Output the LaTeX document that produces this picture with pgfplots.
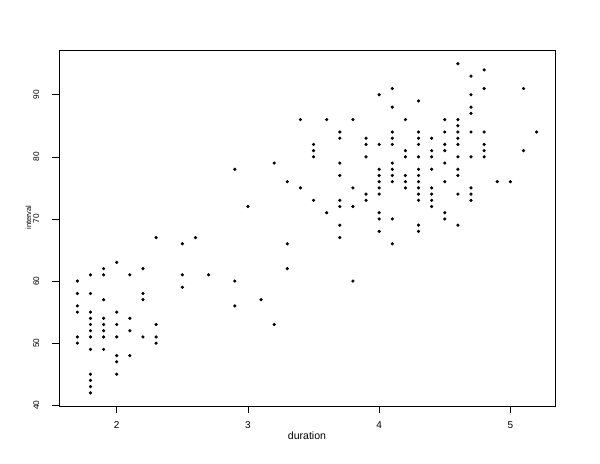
\documentclass[border=0pt]{standalone}
\usepackage{fontspec}
\setmainfont{Liberation Sans}
\usepackage{pgfplots}
\pgfplotsset{compat=1.18}
\begin{document}
\begin{tikzpicture}
\useasboundingbox (-44.25pt,-43.5pt) rectangle (405.75pt,304.5pt);
\begin{axis}[
  at={(0,0)}, anchor=south west,
  scale only axis, width=372pt, height=266.6pt,
  xmin=1.56, xmax=5.34, ymin=39.88, ymax=97.12,
  xtick={2,3,4,5}, ytick={40,50,60,70,80,90},
  tick align=outside, major tick length=5pt,
  xtick pos=bottom, ytick pos=left,
  axis line style={line width=0.6pt, black},
  tick style={line width=0.5pt, black},
  /pgf/number format/assume math mode=true,
  font=\fontsize{7.7}{9}\selectfont,
  xticklabel style={font=\fontsize{7.5}{9}\selectfont, anchor=center, yshift=-9.5pt},
  yticklabel style={font=\fontsize{6.2}{7}\selectfont, xshift=-12pt, rotate=90, anchor=center},
  xlabel={duration}, ylabel={interval},
  every axis x label/.style={at={(axis description cs:0.5,0)}, yshift=-22.5pt, anchor=center, font=\fontsize{7.9}{9}\selectfont},
  every axis y label/.style={at={(axis description cs:0,0.53)}, xshift=-23pt, rotate=90, anchor=center, font=\fontsize{5.6}{7}\selectfont},
]
\addplot[only marks, mark=*, mark size=1pt, black] coordinates {
(1.7,60)(1.7,58)(1.7,56)(1.7,55)(1.7,51)(1.7,50)
(1.8,61)(1.8,58)(1.8,55)(1.8,54)(1.8,53)(1.8,52)(1.8,51)(1.8,49)(1.8,45)(1.8,44)(1.8,43)(1.8,42)
(1.9,62)(1.9,61)(1.9,57)(1.9,54)(1.9,53)(1.9,52)(1.9,51)(1.9,49)
(2.0,63)(2.0,55)(2.0,53)(2.0,51)(2.0,48)(2.0,47)(2.0,45)
(2.1,61)(2.1,54)(2.1,52)(2.1,48)
(2.2,62)(2.2,58)(2.2,57)(2.2,51)
(2.3,67)(2.3,53)(2.3,51)(2.3,50)
(2.5,66)(2.5,61)(2.5,59)
(2.6,67)
(2.7,61)
(2.9,78)(2.9,60)(2.9,56)
(3.0,72)
(3.1,57)
(3.2,79)(3.2,53)
(3.3,76)(3.3,66)(3.3,62)
(3.4,86)(3.4,75)
(3.5,82)(3.5,81)(3.5,80)(3.5,73)
(3.6,86)(3.6,71)
(3.7,84)(3.7,83)(3.7,79)(3.7,77)(3.7,73)(3.7,72)(3.7,69)(3.7,67)
(3.8,86)(3.8,75)(3.8,72)(3.8,60)
(3.9,83)(3.9,82)(3.9,80)(3.9,74)(3.9,73)
(4.0,90)(4.0,82)(4.0,78)(4.0,77)(4.0,76)(4.0,75)(4.0,74)(4.0,71)(4.0,70)(4.0,68)
(4.1,91)(4.1,88)(4.1,84)(4.1,83)(4.1,82)(4.1,79)(4.1,78)(4.1,77)(4.1,76)(4.1,70)(4.1,66)
(4.2,86)(4.2,81)(4.2,80)(4.2,77)(4.2,76)(4.2,75)
(4.3,89)(4.3,84)(4.3,83)(4.3,82)(4.3,80)(4.3,78)(4.3,77)(4.3,76)(4.3,75)(4.3,74)(4.3,73)(4.3,69)(4.3,68)
(4.4,83)(4.4,81)(4.4,80)(4.4,78)(4.4,75)(4.4,74)(4.4,73)(4.4,72)
(4.5,86)(4.5,84)(4.5,82)(4.5,81)(4.5,79)(4.5,76)(4.5,71)(4.5,70)
(4.6,95)(4.6,86)(4.6,85)(4.6,84)(4.6,83)(4.6,82)(4.6,80)(4.6,78)(4.6,77)(4.6,74)(4.6,69)
(4.7,93)(4.7,90)(4.7,88)(4.7,87)(4.7,84)(4.7,80)(4.7,75)(4.7,74)(4.7,73)
(4.8,94)(4.8,91)(4.8,84)(4.8,82)(4.8,81)(4.8,80)
(4.9,76)
(5.0,76)
(5.1,91)(5.1,81)
(5.2,84)
};
\end{axis}
\end{tikzpicture}
\end{document}
